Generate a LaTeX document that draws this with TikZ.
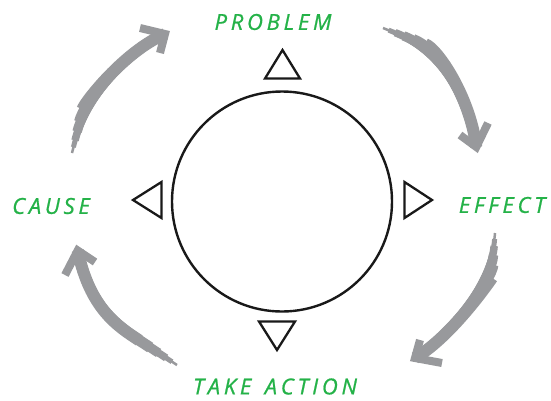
\documentclass[tikz,border=0pt]{standalone}
\usepackage{fontspec}
\newfontfamily\labfont{Open Sans}[LetterSpace=17,FakeBold=0.8]
\definecolor{arrowgray}{RGB}{152,153,156}
\definecolor{labgreen}{RGB}{36,178,72}
\newcommand\brushshaft[4]{%
  \foreach \w/\s in {2.5/0,5/6,7.5/13,9.5/22,11/32,12/45}{%
    \draw[arrowgray,line width=\w pt,shorten <=\s pt] (#1) .. controls (#2) and (#3) .. (#4);}%
}
\tikzset{
  lab/.style={text=labgreen,font=\labfont\itshape\fontsize{22}{26}\selectfont,inner sep=0pt},
  tri/.style={draw=black!90,line width=2.3pt,line join=miter},
  chev/.style={draw=arrowgray,line width=8pt,line join=miter},
  ring/.style={draw=black!90,line width=2.4pt}
}
\begin{document}
\begin{tikzpicture}[x=1pt,y=-1pt]
\useasboundingbox (0,0) rectangle (551,400);
\fill[white] (0,0) rectangle (551,400);
% circle
\node[ring,circle,minimum size=220pt,inner sep=0pt] (hub) at (282,201.5) {};
% triangles
\draw[tri] (282.5,50) -- (300,78.5) -- (265,78.5) -- cycle;
\draw[tri] (133,200) -- (161.5,182) -- (161.5,218) -- cycle;
\draw[tri] (432,200) -- (404.5,182) -- (404.5,218) -- cycle;
\draw[tri] (277,350) -- (259,321.5) -- (295,321.5) -- cycle;
% labels
\node[lab] (problem) at (273,22) {PROBLEM};
\node[lab] (cause) at (51,206) {CAUSE};
\node[lab] (effect) at (502,205) {EFFECT};
\node[lab] (action) at (275,386.5) {TAKE\hspace{4pt} ACTION};
% arrow coordinates
\coordinate (tlA) at (72,153); \coordinate (tlB) at (84,103); \coordinate (tlC) at (124,51.5); \coordinate (tlD) at (165,34);
\coordinate (tlL) at (140,28); \coordinate (tlR) at (160,53);
\coordinate (trA) at (383,28); \coordinate (trB) at (438,49); \coordinate (trC) at (470,97); \coordinate (trD) at (476.3,147);
\coordinate (trL) at (460,135); \coordinate (trR) at (488,123);
\coordinate (brA) at (495,233); \coordinate (brB) at (492,278); \coordinate (brC) at (453,335.5); \coordinate (brD) at (415,358);
\coordinate (brL) at (420,340); \coordinate (brR) at (442,363);
\coordinate (blA) at (177,365); \coordinate (blB) at (118,326.5); \coordinate (blC) at (90,309); \coordinate (blD) at (77.7,250.5);
\coordinate (blL) at (65,275); \coordinate (blR) at (95,262);
% arrows
\brushshaft{tlA}{tlB}{tlC}{tlD}
\draw[chev] (tlL) -- (tlD) -- (tlR);
\brushshaft{trA}{trB}{trC}{trD}
\draw[chev] (trL) -- (trD) -- (trR);
\brushshaft{brA}{brB}{brC}{brD}
\draw[chev] (brL) -- (brD) -- (brR);
\brushshaft{blA}{blB}{blC}{blD}
\draw[chev] (blL) -- (blD) -- (blR);
\end{tikzpicture}
\end{document}
